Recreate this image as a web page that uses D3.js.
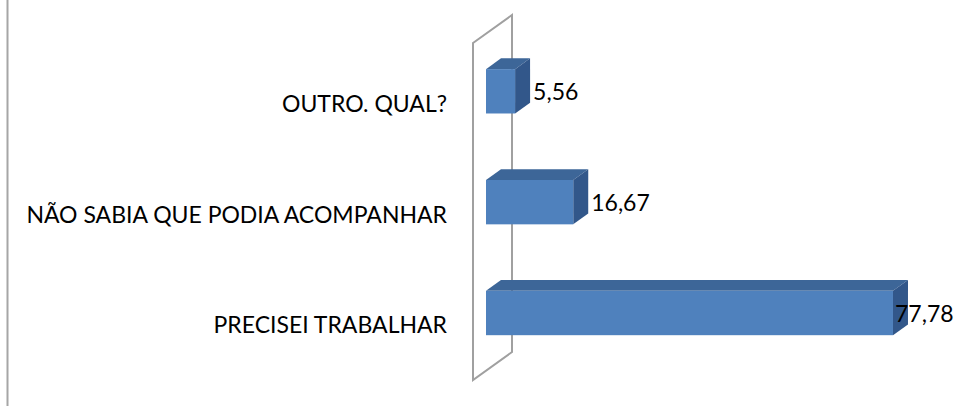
<!DOCTYPE html>
<html>
<head>
<meta charset="utf-8">
<script src="https://cdn.jsdelivr.net/npm/d3@7"></script>
<style>
  body { margin: 0; background: #fff; }
  svg { display: block; }
</style>
</head>
<body>
<svg id="chart" width="957" height="406"></svg>
<script>
// data
var categories = ["OUTRO. QUAL?", "NÃO SABIA QUE PODIA ACOMPANHAR", "PRECISEI TRABALHAR"];
var values = [5.56, 16.67, 77.78];
var valueLabels = ["5,56", "16,67", "77,78"];

var width = 957, height = 406;
var chart = d3.select("#chart");

// 3d frame: depth vector of the back wall
var depth = {dx: 39, dy: -28};
var barFront = 1 / 3, barBack = 1 / 3 + 15 / 39;

var xs = d3.scaleLinear().domain([0, 80]).range([473, 473 + 418.6]);
var ys = d3.scaleBand().domain(categories).range([43, 380])
    .paddingInner(0.6).paddingOuter(0.32);

var frontColor = "#4f81bd", topColor = "#3d6698", sideColor = "#32578a";
var font = "Lato, 'Open Sans', sans-serif";

// left border of the chart area
chart.append("line")
    .attr("x1", 7.5).attr("x2", 7.5)
    .attr("y1", 0).attr("y2", height)
    .attr("stroke", "#a6a6a6")
    .attr("stroke-width", 2);

// back wall (vertical axis plane)
var y0 = ys.range()[0], y1 = ys.range()[1], x0 = xs(0);
chart.append("path")
    .attr("d", "M" + x0 + "," + y0 +
        "L" + (x0 + depth.dx) + "," + (y0 + depth.dy) +
        "L" + (x0 + depth.dx) + "," + (y1 + depth.dy) +
        "L" + x0 + "," + y1 + "Z")
    .attr("fill", "none")
    .attr("stroke", "#a0a0a0")
    .attr("stroke-width", 2);

// bars
var bars = chart.append("g");
categories.forEach(function(c, i) {
    var fx = depth.dx * barFront, fy = depth.dy * barFront;
    var bdx = depth.dx * (barBack - barFront), bdy = depth.dy * (barBack - barFront);
    var left = xs(0) + fx, right = xs(values[i]) + fx;
    var top = ys(c) + fy, bottom = ys(c) + ys.bandwidth() + fy;

    // top face
    bars.append("path")
        .attr("d", "M" + left + "," + top + "L" + (left + bdx) + "," + (top + bdy) +
            "L" + (right + bdx) + "," + (top + bdy) + "L" + right + "," + top + "Z")
        .attr("fill", topColor);
    // side face
    bars.append("path")
        .attr("d", "M" + right + "," + top + "L" + (right + bdx) + "," + (top + bdy) +
            "L" + (right + bdx) + "," + (bottom + bdy) + "L" + right + "," + bottom + "Z")
        .attr("fill", sideColor);
    // front face
    bars.append("rect")
        .attr("x", left).attr("y", top)
        .attr("width", right - left).attr("height", bottom - top)
        .attr("fill", frontColor);

    // value label, pulled in so the last one stays inside the page
    bars.append("text")
        .attr("x", Math.min(right + 18, 895))
        .attr("y", (top + bottom) / 2)
        .attr("dominant-baseline", "central")
        .style("font-family", font)
        .style("font-size", "23px")
        .style("fill", "#000")
        .text(valueLabels[i]);
});

// category labels
chart.append("g").selectAll("text")
    .data(categories)
    .enter()
    .append("text")
        .attr("x", 447)
        .attr("y", d => ys(d) + ys.bandwidth() / 2 + 2)
        .attr("text-anchor", "end")
        .attr("dominant-baseline", "central")
        .style("font-family", font)
        .style("font-size", "23px")
        .style("fill", "#000")
        .text(d => d);
</script>
</body>
</html>
